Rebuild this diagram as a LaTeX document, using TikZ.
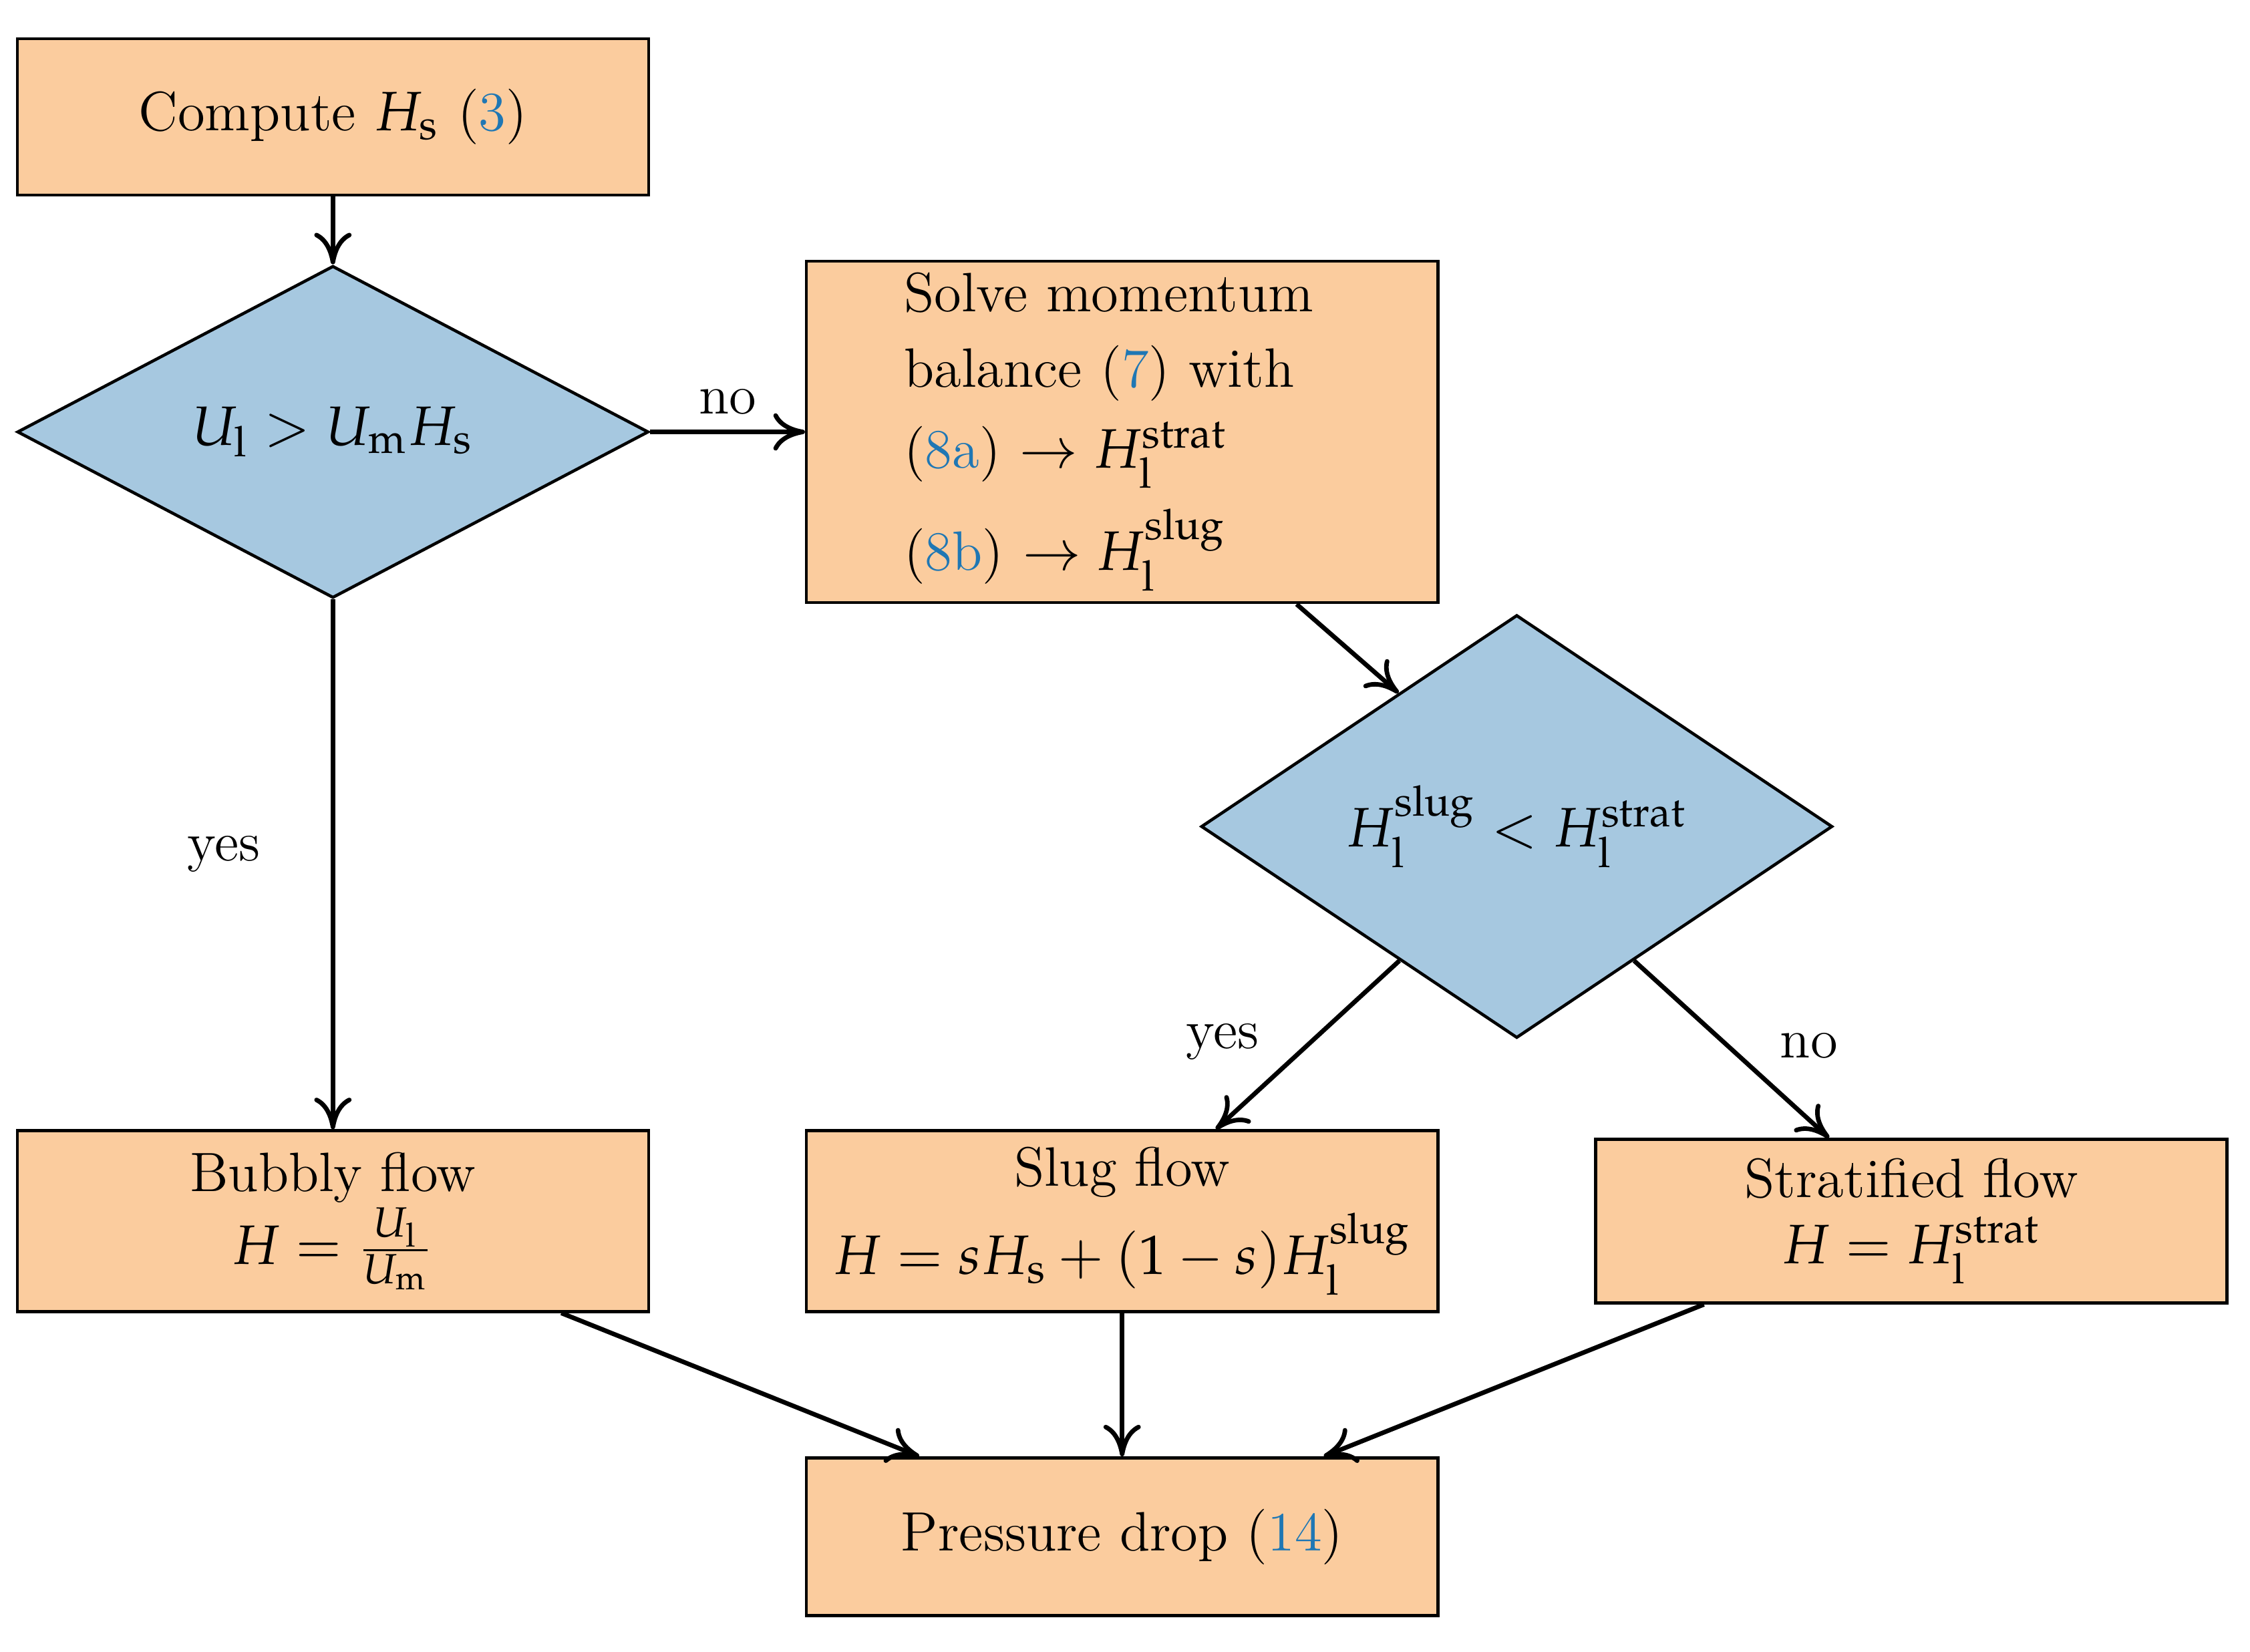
\documentclass[tikz,border=0pt]{standalone}
\usepackage{mathpazo}
\usetikzlibrary{shapes.geometric,calc,arrows.meta}
\definecolor{boxor}{RGB}{251,204,158}
\definecolor{diabl}{RGB}{166,200,224}
\definecolor{lnk}{RGB}{31,119,180}
\newcommand{\rf}[1]{\textcolor{lnk}{#1}}
\begin{document}
\begin{tikzpicture}[
  font=\fontsize{11}{13}\selectfont,
  box/.style={draw,line width=0.6pt,fill=boxor,minimum width=4.4cm,inner sep=0pt,align=center},
  dia/.style={draw,line width=0.6pt,fill=diabl,diamond,inner sep=0pt,minimum width=4.4cm},
  arr/.style={line width=0.9pt,-{To[length=2.2mm,width=2.6mm]}},
  lab/.style={inner sep=0pt}]
\useasboundingbox (0,0) rectangle (15.68,-11.51);
\node[box,minimum height=1.09cm] (comp) at (2.32,-0.815) {Compute $H_\mathrm{s}$ (\rf{3})};
\node[dia,minimum height=2.08cm] (d1) at (2.32,-3.01) {$U_\mathrm{l} > U_\mathrm{m} H_\mathrm{s}$};
\node[box,minimum height=2.38cm,text width=3.04cm,align=left] (solve) at (7.82,-3.01)
 {Solve momentum\\[2pt] balance (\rf{7}) with\\[3pt] (\rf{8a}) $\to H_\mathrm{l}^\mathrm{strat}$\\[3pt] (\rf{8b}) $\to H_\mathrm{l}^\mathrm{slug}$};
\node[dia,minimum height=2.58cm] (d2) at (10.57,-5.76) {$H_\mathrm{l}^\mathrm{slug} < H_\mathrm{l}^\mathrm{strat}$};
\node[box,minimum height=1.26cm] (bub) at (2.32,-8.51) {Bubbly flow\\ $H = \frac{U_\mathrm{l}}{U_\mathrm{m}}$};
\node[box,minimum height=1.26cm] (slug) at (7.82,-8.51) {Slug flow\\[2pt] $H = sH_\mathrm{s} + (1-s)H_\mathrm{l}^\mathrm{slug}$};
\node[box,minimum height=1.14cm] (strat) at (13.32,-8.51) {Stratified flow\\ $H = H_\mathrm{l}^\mathrm{strat}$};
\node[box,minimum height=1.10cm] (pd) at (7.82,-10.71) {Pressure drop (\rf{14})};

\draw[arr] (comp) -- (d1);
\draw[arr] (d1.east) -- node[above=3pt,lab]{no} (solve.west);
\draw[arr] (d1.south) -- node[left=14pt,lab,pos=0.48]{yes} (bub.north);
\draw[arr] ($(solve.south west)!0.775!(solve.south east)$) -- ($(d2.west)!0.627!(d2.north)$);
\draw[arr] ($(d2.west)!0.63!(d2.south)$) -- node[left=10pt,lab,pos=0.48]{yes} ($(slug.north west)!0.648!(slug.north east)$);
\draw[arr] ($(d2.east)!0.63!(d2.south)$) -- node[right=10pt,lab,pos=0.48]{no} ($(strat.north west)!0.37!(strat.north east)$);
\draw[arr] ($(bub.south west)!0.86!(bub.south east)$) -- ($(pd.north west)!0.18!(pd.north east)$);
\draw[arr] (slug) -- (pd);
\draw[arr] ($(strat.south west)!0.173!(strat.south east)$) -- ($(pd.north west)!0.818!(pd.north east)$);
\end{tikzpicture}
\end{document}
